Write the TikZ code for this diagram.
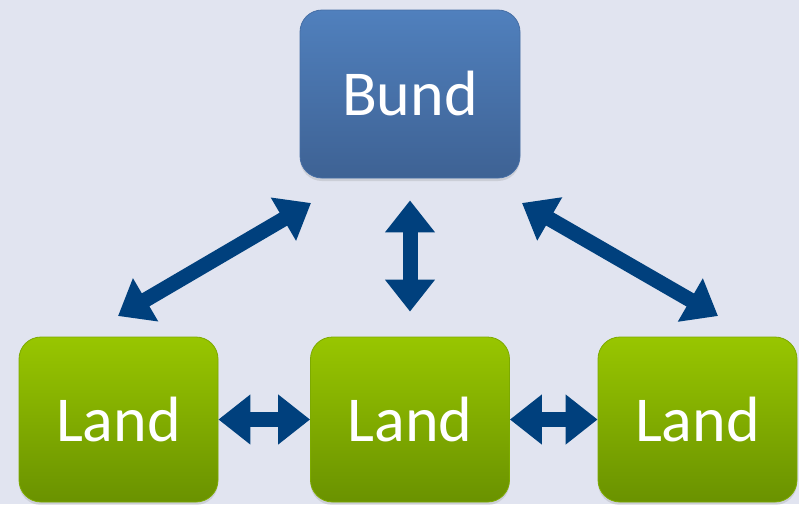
\documentclass[tikz,border=0pt]{standalone}
\usepackage{fontspec}
\setmainfont{Carlito}
\usetikzlibrary{arrows.meta,shadows,calc}
\definecolor{bg}{RGB}{225,228,240}
\definecolor{arrowblue}{RGB}{0,64,125}
\definecolor{bundtop}{RGB}{80,128,189}
\definecolor{bundbot}{RGB}{62,98,148}
\definecolor{bundedge}{RGB}{70,110,165}
\definecolor{landtop}{RGB}{152,198,0}
\definecolor{landbot}{RGB}{106,146,0}
\definecolor{landedge}{RGB}{125,170,0}
\tikzset{
  box/.style={rounded corners=22pt, line width=0.8pt, text=white,
    font=\fontsize{64}{70}\selectfont, inner sep=0pt,
    drop shadow={shadow xshift=0pt, shadow yshift=-3pt, opacity=0.22}},
  bundbox/.style={box, draw=bundedge, top color=bundtop, bottom color=bundbot,
    minimum width=220pt, minimum height=168pt},
  landbox/.style={box, draw=landedge, top color=landtop, bottom color=landbot,
    minimum width=199pt, minimum height=165pt},
  dblarrow/.style={draw=arrowblue, line width=15pt,
    {Triangle[width=48pt,length=32pt]}-{Triangle[width=48pt,length=32pt]}}
}
\begin{document}
\begin{tikzpicture}[x=1pt,y=-1pt]
\fill[bg] (0,0) rectangle (799,504);
\useasboundingbox (0,0) rectangle (799,504);
\node[bundbox] (bund) at (410,94) {Bund};
\node[landbox] (land1) at (118.5,419.5) {Land};
\node[landbox] (land2) at (410,419.5) {Land};
\node[landbox] (land3) at (697.5,419.5) {Land};
\coordinate (a1s) at (118,316);
\coordinate (a1e) at (311,203);
\coordinate (a3s) at (522,203);
\coordinate (a3e) at (718,316);
\draw[dblarrow] (a1s) -- (a1e);
\draw[dblarrow] (a3s) -- (a3e);
\draw[dblarrow, shorten <=22pt, shorten >=25pt] (bund.south) -- (land2.north);
\draw[dblarrow] (land1.east) -- (land2.west);
\draw[dblarrow] (land2.east) -- (land3.west);
\end{tikzpicture}
\end{document}
